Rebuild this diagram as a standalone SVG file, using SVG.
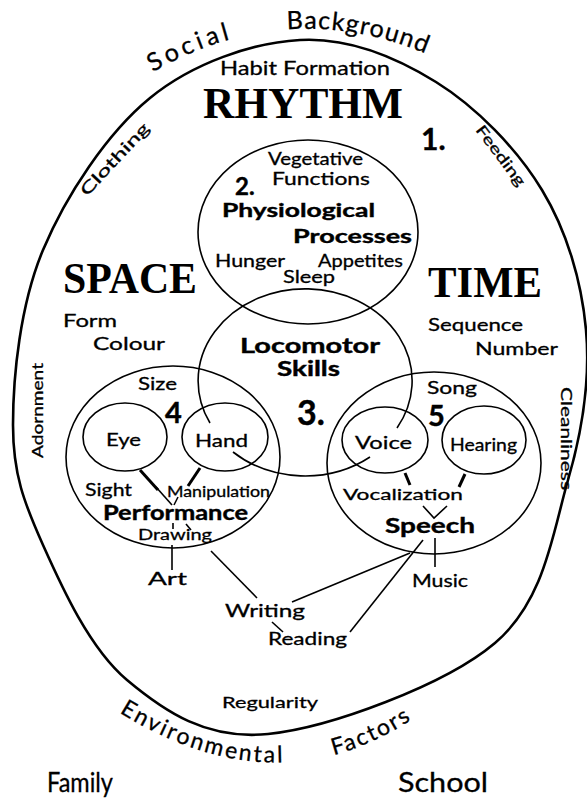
<svg xmlns="http://www.w3.org/2000/svg" xmlns:xlink="http://www.w3.org/1999/xlink" width="587" height="807" viewBox="0 0 587 807">
<style>
.t{font-family:Lato,"DejaVu Sans",sans-serif;fill:#000;font-size:17px;stroke:#000;stroke-width:0.3}
.b{font-weight:bold;stroke-width:0.4}
.s{font-family:"Liberation Serif","Times New Roman",serif;font-weight:bold;fill:#000;font-size:44px}
.ln{stroke:#000;fill:none;stroke-width:1.6}
.thick{stroke:#000;fill:none;stroke-width:3}
.outer{stroke:#000;fill:none;stroke-width:2.6}
</style>
<defs>
<path id="topArc" d="M140,80 Q300,-20 470,75"/>
<path id="botArc" d="M100,700 Q290,830 450,690"/>
</defs>
<rect width="587" height="807" fill="#fff"/>

<g id="outer-factors">
<path class="outer" d="M300,40 C347.7,37.3 395.7,57 436,82 C476.3,107 517,148.7 542,190 C567,231.3 581.7,281.7 586,330 C590.3,378.3 583.2,427.8 568,480 C552.8,532.2 545,600.7 495,643 C445,685.3 329.3,727.8 268,734 C206.7,740.2 164.5,711.5 127,680 C89.5,648.5 62,587.5 43,545 C24,502.5 13,474.2 13,425 C13,375.8 20.2,304.5 43,250 C65.8,195.5 107.2,133 150,98 C192.8,63 252.3,42.7 300,40 Z"/>
<text class="t" style="font-size:25px;letter-spacing:4px"><textPath xlink:href="#topArc" href="#topArc" startOffset="15">Social</textPath></text>
<text class="t" style="font-size:25px;letter-spacing:1.2px"><textPath xlink:href="#topArc" href="#topArc" startOffset="157">Background</textPath></text>
<text class="t" style="font-size:23px;letter-spacing:2.3px"><textPath xlink:href="#botArc" href="#botArc" startOffset="23">Environmental</textPath></text>
<text class="t" style="font-size:23px;letter-spacing:2px"><textPath xlink:href="#botArc" href="#botArc" startOffset="248">Factors</textPath></text>
<text class="t" style="font-size:16px" transform="translate(87,197) rotate(-47)" textLength="93" lengthAdjust="spacingAndGlyphs">Clothing</text>
<text class="t" style="font-size:15px" transform="translate(475,130) rotate(53)" textLength="72" lengthAdjust="spacingAndGlyphs">Feeding</text>
<text class="t" style="font-size:16px" transform="translate(43,458) rotate(-90)" textLength="95" lengthAdjust="spacingAndGlyphs">Adornment</text>
<text class="t" style="font-size:16px" transform="translate(561,387) rotate(90)" textLength="103" lengthAdjust="spacingAndGlyphs">Cleanliness</text>
<text class="t" style="font-size:19px" x="220" y="75" textLength="170" lengthAdjust="spacingAndGlyphs">Habit Formation</text>
<text class="s" x="203" y="118" textLength="200" lengthAdjust="spacingAndGlyphs">RHYTHM</text>
<text class="t b" style="font-size:30px" x="421" y="150">1.</text>
<text class="s" x="63" y="293" textLength="134" lengthAdjust="spacingAndGlyphs">SPACE</text>
<text class="s" x="428" y="297" textLength="114" lengthAdjust="spacingAndGlyphs">TIME</text>
<text class="t" x="63" y="327" textLength="54" lengthAdjust="spacingAndGlyphs">Form</text>
<text class="t" x="93" y="350" textLength="72" lengthAdjust="spacingAndGlyphs">Colour</text>
<text class="t" x="428" y="331" textLength="95" lengthAdjust="spacingAndGlyphs">Sequence</text>
<text class="t" x="475" y="355" textLength="83" lengthAdjust="spacingAndGlyphs">Number</text>
<text class="t" style="font-size:16px" x="222" y="708" textLength="96" lengthAdjust="spacingAndGlyphs">Regularity</text>
<text class="t" style="font-size:27px" x="47" y="792" textLength="66" lengthAdjust="spacingAndGlyphs">Family</text>
<text class="t" style="font-size:27px" x="398" y="792" textLength="90" lengthAdjust="spacingAndGlyphs">School</text>
</g>

<g id="physiological">
<ellipse class="ln" cx="308" cy="232" rx="110" ry="92"/>
<text class="t" x="268" y="165" textLength="95" lengthAdjust="spacingAndGlyphs">Vegetative</text>
<text class="t" x="272" y="185" textLength="98" lengthAdjust="spacingAndGlyphs">Functions</text>
<text class="t b" style="font-size:24px" x="235" y="195">2.</text>
<text class="t b" style="font-size:19px" x="222" y="217" textLength="153" lengthAdjust="spacingAndGlyphs">Physiological</text>
<text class="t b" style="font-size:19px" x="293" y="243" textLength="119" lengthAdjust="spacingAndGlyphs">Processes</text>
<text class="t" x="215" y="267" textLength="70" lengthAdjust="spacingAndGlyphs">Hunger</text>
<text class="t" x="318" y="267" textLength="85" lengthAdjust="spacingAndGlyphs">Appetites</text>
<text class="t" x="283" y="283" textLength="52" lengthAdjust="spacingAndGlyphs">Sleep</text>
</g>

<g id="locomotor">
<path class="ln" d="M397,428 A107,92 0 1,0 210,423 M233,452 A107,92 0 0,0 370,457"/>
<text class="t b" style="font-size:20px" x="240" y="353" textLength="140" lengthAdjust="spacingAndGlyphs">Locomotor</text>
<text class="t b" style="font-size:20px" x="277" y="376" textLength="63" lengthAdjust="spacingAndGlyphs">Skills</text>
<text class="t b" style="font-size:34px" x="297" y="425">3.</text>
</g>

<g id="performance">
<ellipse class="ln" cx="173" cy="457" rx="107" ry="91"/>
<text class="t" x="138" y="390" textLength="39" lengthAdjust="spacingAndGlyphs">Size</text>
<text class="t b" style="font-size:29px" x="165" y="423">4</text>
<text class="t" x="85" y="496" textLength="47" lengthAdjust="spacingAndGlyphs">Sight</text>
<text class="t" style="font-size:15px" x="167" y="497" textLength="103" lengthAdjust="spacingAndGlyphs">Manipulation</text>
<text class="t b" style="font-size:21px" x="103" y="520" textLength="145" lengthAdjust="spacingAndGlyphs">Performance</text>
<text class="t" style="font-size:16px" x="138" y="540" textLength="74" lengthAdjust="spacingAndGlyphs">Drawing</text>
<text class="t" x="148" y="585" textLength="39" lengthAdjust="spacingAndGlyphs">Art</text>
</g>

<g id="eye">
<ellipse class="ln" cx="125" cy="437" rx="42" ry="34"/>
<text class="t" x="106" y="446" textLength="35" lengthAdjust="spacingAndGlyphs">Eye</text>
</g>

<g id="hand">
<ellipse class="ln" cx="225" cy="437" rx="43" ry="34"/>
<text class="t" x="195" y="447" textLength="53" lengthAdjust="spacingAndGlyphs">Hand</text>
</g>

<g id="speech">
<ellipse class="ln" cx="434" cy="463" rx="107" ry="91"/>
<text class="t" x="427" y="394" textLength="50" lengthAdjust="spacingAndGlyphs">Song</text>
<text class="t b" style="font-size:29px" x="428" y="426">5</text>
<text class="t" style="font-size:16px" x="343" y="500" textLength="120" lengthAdjust="spacingAndGlyphs">Vocalization</text>
<text class="t b" style="font-size:21px" x="385" y="533" textLength="90" lengthAdjust="spacingAndGlyphs">Speech</text>
<text class="t" x="412" y="587" textLength="56" lengthAdjust="spacingAndGlyphs">Music</text>
</g>

<g id="voice">
<ellipse class="ln" cx="385" cy="440" rx="43" ry="33"/>
<text class="t" x="355" y="449" textLength="57" lengthAdjust="spacingAndGlyphs">Voice</text>
</g>

<g id="hearing">
<ellipse class="ln" cx="484" cy="440" rx="42" ry="34"/>
<text class="t" x="450" y="451" textLength="67" lengthAdjust="spacingAndGlyphs">Hearing</text>
</g>

<g id="writing">
<text class="t" x="225" y="617" textLength="80" lengthAdjust="spacingAndGlyphs">Writing</text>
</g>
<g id="reading">
<text class="t" x="268" y="645" textLength="79" lengthAdjust="spacingAndGlyphs">Reading</text>
</g>

<g id="connectors">
<line class="thick" x1="140" y1="470" x2="158" y2="490"/>
<line class="ln" x1="156" y1="487" x2="172" y2="505"/>
<line class="thick" x1="200" y1="468" x2="188" y2="486"/>
<line class="ln" x1="178" y1="497" x2="174" y2="505"/>
<line class="ln" x1="173" y1="523" x2="173" y2="529"/>
<line class="ln" x1="186" y1="524" x2="191" y2="530"/>
<line class="ln" x1="172" y1="545" x2="172" y2="570"/>
<line class="ln" x1="211" y1="551" x2="257" y2="598"/>
<line class="ln" x1="272" y1="622" x2="283" y2="632"/>
<line class="ln" x1="292" y1="602" x2="410" y2="553"/>
<line class="ln" x1="350" y1="632" x2="423" y2="540"/>
<line class="ln" x1="435" y1="538" x2="435" y2="567"/>
<line class="thick" x1="405" y1="473" x2="410" y2="485"/>
<line class="thick" x1="465" y1="474" x2="459" y2="487"/>
<polyline class="ln" points="423,506 434,518 447,506"/>
</g>
</svg>
